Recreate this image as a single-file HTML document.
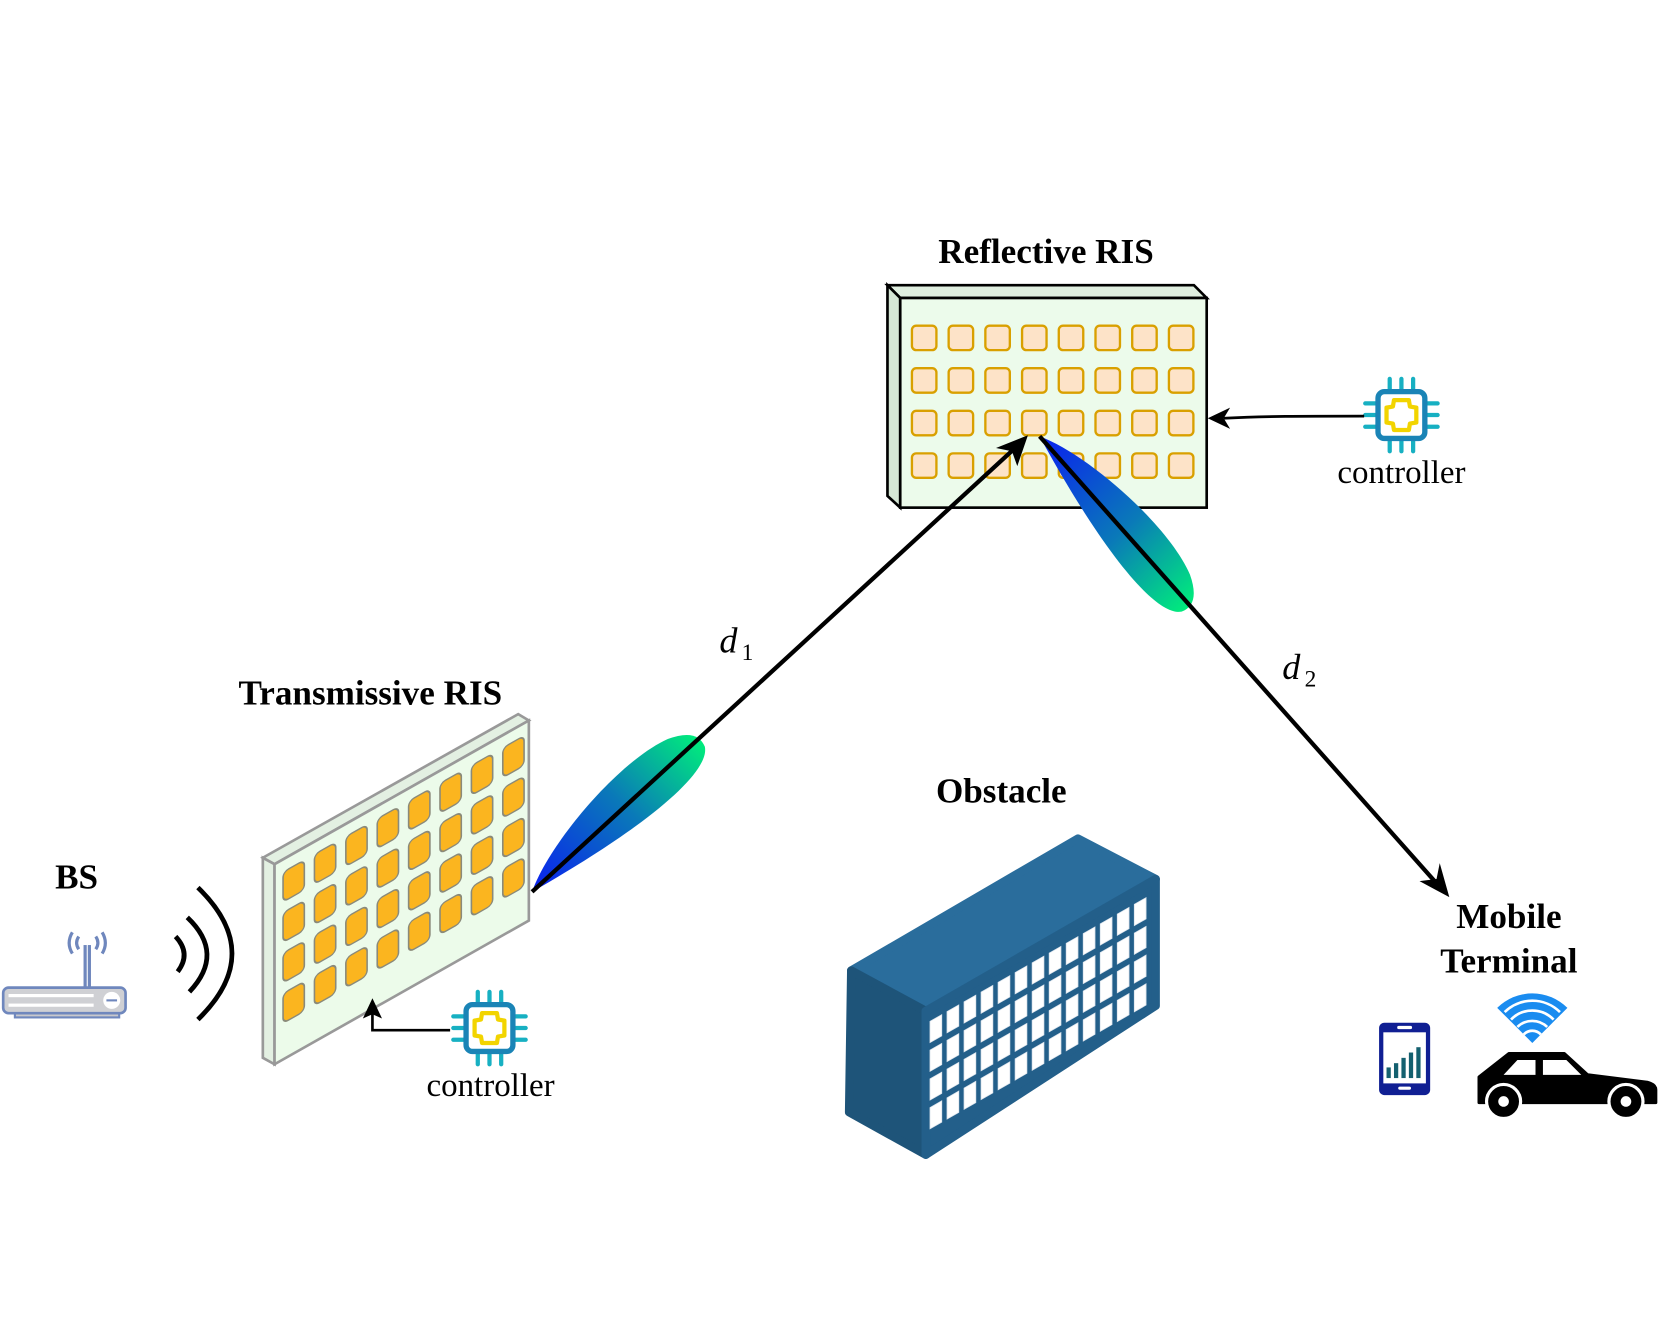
<!DOCTYPE html>
<html><head><meta charset="utf-8"><style>
html,body{margin:0;padding:0;background:#fff;}
svg{display:block;}
text{font-family:"Liberation Serif",serif;}
</style></head><body>
<svg width="1660" height="1342" viewBox="0 0 1560 1261" preserveAspectRatio="none" xmlns="http://www.w3.org/2000/svg">
<defs>
<linearGradient id="lobe" gradientUnits="userSpaceOnUse" x1="0" y1="0" x2="215" y2="-20">
<stop offset="0" stop-color="#0a1ff0"/><stop offset="0.55" stop-color="#0a7ab8"/><stop offset="1" stop-color="#00f07a"/>
</linearGradient>
<path id="lobeShape" d="M0,0 C40,-24 140,-42 190,-28 Q218,-18 212,0 C200,22 120,22 0,0 Z"/>
<g id="chip">
<g stroke="#17b0c2" stroke-width="4" stroke-linecap="round">
<line x1="-11" y1="-22" x2="-11" y2="-34"/><line x1="0" y1="-22" x2="0" y2="-34"/><line x1="11" y1="-22" x2="11" y2="-34"/>
<line x1="-11" y1="22" x2="-11" y2="34"/><line x1="0" y1="22" x2="0" y2="34"/><line x1="11" y1="22" x2="11" y2="34"/>
<line x1="-22" y1="-11" x2="-34" y2="-11"/><line x1="-22" y1="0" x2="-34" y2="0"/><line x1="-22" y1="11" x2="-34" y2="11"/>
<line x1="22" y1="-11" x2="34" y2="-11"/><line x1="22" y1="0" x2="34" y2="0"/><line x1="22" y1="11" x2="34" y2="11"/>
</g>
<rect x="-22" y="-22" width="44" height="44" rx="6" fill="#fff" stroke="#1a84b6" stroke-width="5"/>
<path d="M-7,-14 H7 L8,-8 L14,-7 V7 L8,8 L7,14 H-7 L-8,8 L-14,7 V-7 L-8,-8 Z" fill="none" stroke="#f2d400" stroke-width="4" stroke-linejoin="round"/>
</g>
</defs>

<!-- Reflective RIS -->
<text x="983" y="247" font-size="33" font-weight="bold" text-anchor="middle">Reflective RIS</text>
<polygon points="834,268 1122,268 1134,280 846,280" fill="#dfeedf" stroke="#000" stroke-width="2.5"/>
<polygon points="834,268 846,280 846,477 834,466" fill="#d5e6d5" stroke="#000" stroke-width="2.5"/>
<rect x="846" y="280" width="288" height="197" fill="#ecfbeb" stroke="#000" stroke-width="2.5"/>
<g fill="#fde3c8" stroke="#d9a000" stroke-width="2.2">
<g id="rrow">
<rect x="857" y="306" width="23" height="23" rx="4"/><rect x="891.5" y="306" width="23" height="23" rx="4"/><rect x="926" y="306" width="23" height="23" rx="4"/><rect x="960.5" y="306" width="23" height="23" rx="4"/><rect x="995" y="306" width="23" height="23" rx="4"/><rect x="1029.5" y="306" width="23" height="23" rx="4"/><rect x="1064" y="306" width="23" height="23" rx="4"/><rect x="1098.5" y="306" width="23" height="23" rx="4"/>
</g>
<use href="#rrow" y="40"/><use href="#rrow" y="80"/><use href="#rrow" y="120"/>
</g>

<!-- controller reflective -->
<use href="#chip" x="1317" y="390"/>
<text x="1317" y="454" font-size="31" text-anchor="middle">controller</text>
<path d="M1282,391 C1220,391 1190,391 1150,393" fill="none" stroke="#000" stroke-width="2.5"/>
<polygon points="1135,393 1156,383 1150,393 1156,403" fill="#000"/>

<!-- lobes -->
<use href="#lobeShape" fill="url(#lobe)" transform="translate(977,410) rotate(51)"/>
<use href="#lobeShape" fill="url(#lobe)" transform="translate(500,838) rotate(-40)"/>

<!-- beams -->
<line x1="500" y1="838" x2="955" y2="420" stroke="#000" stroke-width="4"/>
<polygon points="966,409 956,438 951,424 936,421" fill="#000"/>
<line x1="977" y1="410" x2="1350" y2="830" stroke="#000" stroke-width="4"/>
<polygon points="1362,843 1334,828 1350,826 1353,811" fill="#000"/>
<text x="676" y="613" font-size="34" font-style="italic">d</text><text x="697" y="620" font-size="22">1</text>
<text x="1205" y="638" font-size="34" font-style="italic">d</text><text x="1226" y="645" font-size="22">2</text>

<!-- Transmissive RIS -->
<text x="348" y="662" font-size="33" font-weight="bold" text-anchor="middle">Transmissive RIS</text>
<polygon points="247,806 487,671 497,677 258,812" fill="#e3f0e2" stroke="#999" stroke-width="2.5"/>
<polygon points="247,806 258,812 258,1000 247,994" fill="#e3f0e2" stroke="#999" stroke-width="2.5"/>
<polygon points="258,812 497,677 497,865 258,1000" fill="#ecfbea" stroke="#999" stroke-width="2.5"/>
<g transform="translate(258,812) skewY(-29.5)" fill="#fbb51f" stroke="#8a8a7a" stroke-width="1.5">
<g id="trow">
<rect x="8" y="12" width="20" height="28" rx="5"/><rect x="37.5" y="12" width="20" height="28" rx="5"/><rect x="67" y="12" width="20" height="28" rx="5"/><rect x="96.5" y="12" width="20" height="28" rx="5"/><rect x="126" y="12" width="20" height="28" rx="5"/><rect x="155.5" y="12" width="20" height="28" rx="5"/><rect x="185" y="12" width="20" height="28" rx="5"/><rect x="214.5" y="12" width="20" height="28" rx="5"/>
</g>
<use href="#trow" y="38"/><use href="#trow" y="76"/><use href="#trow" y="114"/>
</g>

<!-- controller transmissive -->
<use href="#chip" x="460" y="966"/>
<text x="461" y="1030" font-size="31" text-anchor="middle">controller</text>
<polyline points="423,968 350,968 350,952" fill="none" stroke="#000" stroke-width="2.5"/>
<polygon points="350,938 341,957 350,953 359,957" fill="#000"/>

<!-- BS -->
<text x="72" y="835" font-size="33" font-weight="bold" text-anchor="middle">BS</text>
<g fill="none" stroke="#000" stroke-width="4.5">
<path d="M165,880 Q180,896 167,913"/>
<path d="M176,862 Q212,896 178,932"/>
<path d="M186,834 Q250,896 186,958"/>
</g>
<g stroke="#6f87bd" fill="none" stroke-width="3">
<line x1="80" y1="888" x2="80" y2="928"/><line x1="84" y1="888" x2="84" y2="928"/>
<path d="M74,880 Q70,886 74,892"/><path d="M68,876 Q62,886 68,896"/><path d="M90,880 Q94,886 90,892"/><path d="M96,876 Q102,886 96,896"/>
</g>
<rect x="14" y="950" width="98" height="6" fill="#c8c8cc" stroke="#6f87bd" stroke-width="2"/>
<rect x="3" y="928" width="115" height="24" rx="5" fill="#cfd0d4" stroke="#6f87bd" stroke-width="2.5"/>
<circle cx="105" cy="940" r="8" fill="#fff"/>
<line x1="100" y1="940" x2="110" y2="940" stroke="#6f87bd" stroke-width="2"/>
<g fill="#fff"><rect x="8" y="934" width="80" height="3"/><rect x="8" y="943" width="80" height="3"/></g>

<!-- Obstacle -->
<text x="941" y="754" font-size="33" font-weight="bold" text-anchor="middle">Obstacle</text>
<polygon points="800,912 1013,788 1086,826 870,950" fill="#2a6d9c" stroke="#2a6d9c" stroke-width="8" stroke-linejoin="round"/>
<polygon points="800,912 870,950 870,1085 798,1045" fill="#1e5479" stroke="#1e5479" stroke-width="8" stroke-linejoin="round"/>
<polygon points="870,950 1086,826 1086,945 870,1085" fill="#235f8a" stroke="#235f8a" stroke-width="8" stroke-linejoin="round"/>
<g transform="translate(870,950) skewY(-29.8)" fill="#fff" stroke="#dfe6ee" stroke-width="0.8">
<g id="wrow">
<rect x="4" y="12" width="11" height="20"/><rect x="20" y="12" width="11" height="20"/><rect x="36" y="12" width="11" height="20"/><rect x="52" y="12" width="11" height="20"/><rect x="68" y="12" width="11" height="20"/><rect x="84" y="12" width="11" height="20"/><rect x="100" y="12" width="11" height="20"/><rect x="116" y="12" width="11" height="20"/><rect x="132" y="12" width="11" height="20"/><rect x="148" y="12" width="11" height="20"/><rect x="164" y="12" width="11" height="20"/><rect x="180" y="12" width="11" height="20"/><rect x="196" y="12" width="11" height="20"/>
</g>
<use href="#wrow" y="27"/><use href="#wrow" y="54"/><use href="#wrow" y="81"/>
</g>

<!-- Mobile Terminal -->
<text x="1418" y="872" font-size="33" font-weight="bold" text-anchor="middle">Mobile</text>
<text x="1418" y="914" font-size="33" font-weight="bold" text-anchor="middle">Terminal</text>
<rect x="1296" y="961" width="48" height="68" rx="5" fill="#101f93"/>
<rect x="1300" y="970" width="40" height="48" fill="#fff"/>
<rect x="1313" y="964" width="14" height="3" rx="1.5" fill="#fff"/>
<rect x="1314" y="1021" width="12" height="3" rx="1.5" fill="#fff"/>
<g fill="#14606f"><rect x="1303" y="1003" width="4" height="10"/><rect x="1310" y="999" width="4" height="14"/><rect x="1317" y="994" width="4" height="19"/><rect x="1324" y="989" width="4" height="24"/><rect x="1331" y="984" width="4" height="29"/></g>
<!-- wifi -->
<path d="M1440,980 L1407,947 A47,47 0 0 1 1473,947 Z" fill="#1a8cf0"/>
<g fill="none" stroke="#fff" stroke-width="2.5">
<path d="M1414,951 A37,37 0 0 1 1466,951"/><path d="M1420,958 A28,28 0 0 1 1460,958"/><path d="M1426,965 A20,20 0 0 1 1454,965"/><path d="M1432,972 A11,11 0 0 1 1448,972"/>
</g>
<!-- car -->
<path d="M1390,1012 L1418,990 L1470,990 L1492,1010 L1548,1017 Q1556,1019 1556,1024 L1556,1036 L1390,1036 Z" fill="#000" stroke="#000" stroke-width="3" stroke-linejoin="round"/>
<polygon points="1413,1010 1426,996 1443,996 1443,1010" fill="#fff"/>
<polygon points="1450,996 1472,996 1486,1010 1450,1010" fill="#fff"/>
<circle cx="1413" cy="1035" r="16" fill="#000" stroke="#fff" stroke-width="3"/><circle cx="1413" cy="1035" r="5" fill="#fff"/>
<circle cx="1528" cy="1035" r="16" fill="#000" stroke="#fff" stroke-width="3"/><circle cx="1528" cy="1035" r="5" fill="#fff"/>
</svg>
</body></html>
